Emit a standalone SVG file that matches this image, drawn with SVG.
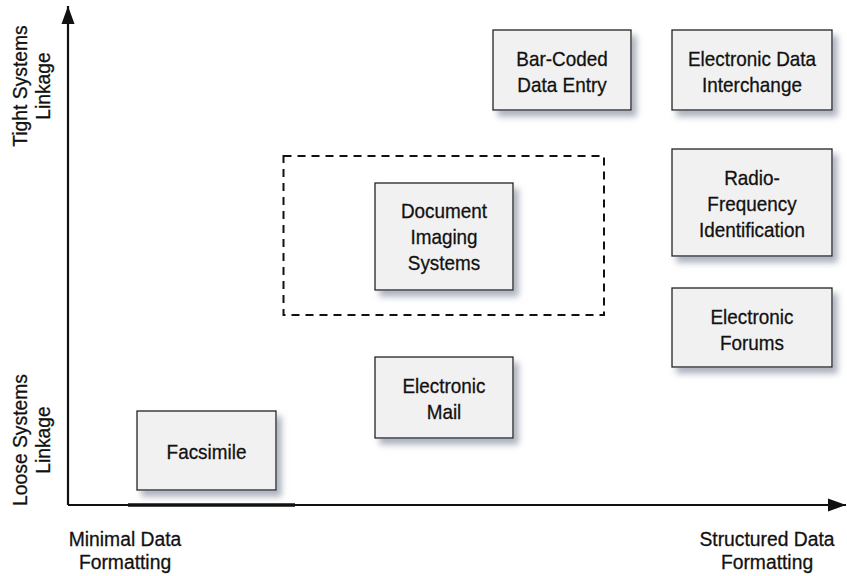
<svg xmlns="http://www.w3.org/2000/svg" width="847" height="576" viewBox="0 0 847 576">
<style>
text{font-family:"Liberation Sans",Arial,sans-serif;font-size:21px;fill:#111;text-anchor:middle;stroke:#111;stroke-width:0.3}
.box{fill:#f1f1f1;stroke:#222;stroke-width:1.3;filter:url(#sh)}
.axis{stroke:#111;stroke-width:2.2;fill:none}
</style>
<defs>
<filter id="sh" x="-20%" y="-20%" width="150%" height="150%">
<feDropShadow dx="5" dy="6" stdDeviation="3" flood-color="#8a93a3" flood-opacity="0.7"/>
</filter>
<marker id="ah" markerWidth="20" markerHeight="14" refX="18" refY="7" orient="auto" markerUnits="userSpaceOnUse">
<path d="M0,0.5 L18,7 L0,13.5 Z" fill="#111"/>
</marker>
</defs>
<g id="connectors">
<path class="axis" d="M68,505 L68,6" marker-end="url(#ah)"/>
<path class="axis" d="M68,505 L846,505" marker-end="url(#ah)"/>
<line x1="128" y1="505" x2="295" y2="505" stroke="#111" stroke-width="3.5"/>
<rect id="dashed-region" x="283.5" y="156" width="320.5" height="159" fill="none" stroke="#111" stroke-width="2" stroke-dasharray="8,6"/>
</g>
<g id="axis-labels">
<text transform="translate(27,86) rotate(-90) scale(0.92,1)">Tight Systems</text>
<text transform="translate(50,86) rotate(-90) scale(0.92,1)">Linkage</text>
<text transform="translate(27,440) rotate(-90) scale(0.92,1)">Loose Systems</text>
<text transform="translate(50,440) rotate(-90) scale(0.92,1)">Linkage</text>
<text transform="translate(125,546) scale(0.92,1)">Minimal Data</text>
<text transform="translate(125,569) scale(0.92,1)">Formatting</text>
<text transform="translate(767,546) scale(0.92,1)">Structured Data</text>
<text transform="translate(767,569) scale(0.92,1)">Formatting</text>
</g>
<g id="bar-coded">
<rect class="box" x="493" y="30" width="138" height="80"/>
<text transform="translate(562,66) scale(0.9,1)">Bar-Coded</text>
<text transform="translate(562,92) scale(0.9,1)">Data Entry</text>
</g>
<g id="edi">
<rect class="box" x="672" y="30" width="160" height="80"/>
<text transform="translate(752,66) scale(0.9,1)">Electronic Data</text>
<text transform="translate(752,92) scale(0.9,1)">Interchange</text>
</g>
<g id="rfid">
<rect class="box" x="672" y="149" width="160" height="107"/>
<text transform="translate(752,185) scale(0.9,1)">Radio-</text>
<text transform="translate(752,211) scale(0.9,1)">Frequency</text>
<text transform="translate(752,237) scale(0.9,1)">Identification</text>
</g>
<g id="forums">
<rect class="box" x="672" y="288" width="160" height="79"/>
<text transform="translate(752,324) scale(0.9,1)">Electronic</text>
<text transform="translate(752,350) scale(0.9,1)">Forums</text>
</g>
<g id="doc-imaging">
<rect class="box" x="375" y="183" width="138" height="107"/>
<text transform="translate(444,218) scale(0.9,1)">Document</text>
<text transform="translate(444,244) scale(0.9,1)">Imaging</text>
<text transform="translate(444,270) scale(0.9,1)">Systems</text>
</g>
<g id="email">
<rect class="box" x="375" y="357" width="138" height="81"/>
<text transform="translate(444,393) scale(0.9,1)">Electronic</text>
<text transform="translate(444,419) scale(0.9,1)">Mail</text>
</g>
<g id="facsimile">
<rect class="box" x="137" y="411" width="139" height="79"/>
<text transform="translate(206.5,459) scale(0.9,1)">Facsimile</text>
</g>
</svg>
